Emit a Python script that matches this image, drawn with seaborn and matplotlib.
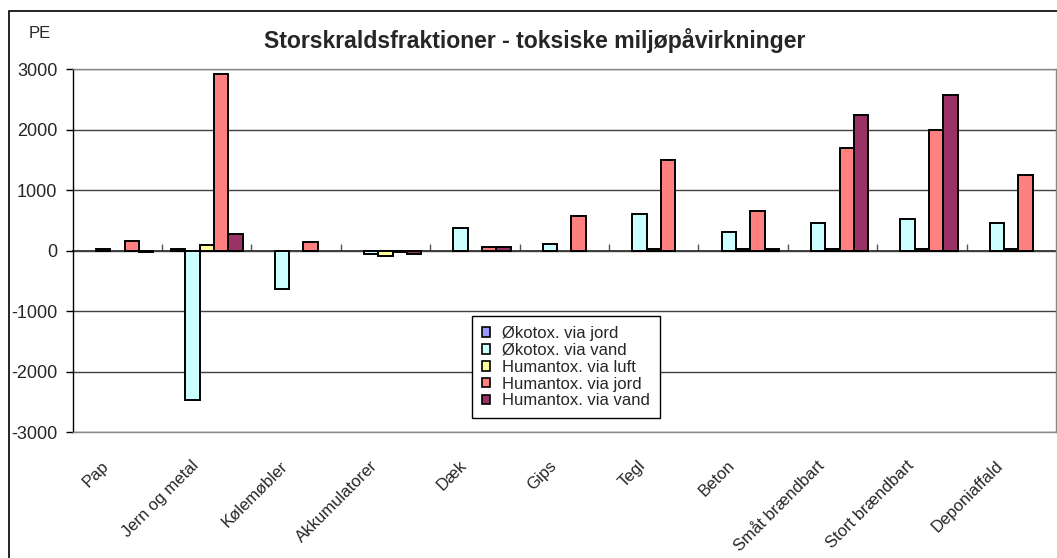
import pandas as pd
import matplotlib.pyplot as plt
import matplotlib.transforms as mtransforms
import seaborn as sns

categories = ["Pap", "Jern og metal", "Kølemøbler", "Akkumulatorer", "Dæk", "Gips",
              "Tegl", "Beton", "Småt brændbart", "Stort brændbart", "Deponiaffald"]
series_names = ["Økotox. via jord", "Økotox. via vand", "Humantox. via luft",
                "Humantox. via jord", "Humantox. via vand"]
oko_jord = [0, 20, 0, 0, 0, 0, 0, 0, 0, 0, 0]
oko_vand = [20, -2470, -640, -55, 380, 114, 603, 304, 462, 522, 462]
hum_luft = [0, 87, 0, -87, 0, 0, 20, 20, 20, 20, 20]
hum_jord = [163, 2924, 136, -15, 54, 576, 1505, 658, 1696, 1995, 1255]
hum_vand = [-25, 277, 0, -60, 54, 0, 0, 20, 2245, 2576, 0]
colors = ["#9999FF", "#CCFFFF", "#FFFF99", "#FF8080", "#993366"]

sns.set_theme(style="white")
plt.rcParams['font.family'] = ['Liberation Sans', 'DejaVu Sans']
plt.rcParams['axes.unicode_minus'] = False

rows = []
for name, vals in zip(series_names, [oko_jord, oko_vand, hum_luft, hum_jord, hum_vand]):
    for cat, v in zip(categories, vals):
        rows.append({"Fraktion": cat, "Kategori": name, "PE": v})
df = pd.DataFrame(rows)

fig = plt.figure(figsize=(10.57, 5.58), dpi=100)
ax = fig.add_axes([0.0688, 0.2254, 0.9302, 0.6506])

sns.barplot(data=df, x="Fraktion", y="PE", hue="Kategori", order=categories,
            hue_order=series_names, palette=colors, saturation=1, errorbar=None,
            edgecolor="black", linewidth=1.4, width=0.8, ax=ax, zorder=3)

# Excel skips empty bars
for p in ax.patches:
    if p.get_height() == 0 and p.get_width() > 0:
        p.set_linewidth(0)

ax.set_ylim(-3000, 3000)
ax.set_xlim(-0.5, len(categories) - 0.5)
ax.set_yticks(range(-3000, 3001, 1000))
ax.yaxis.grid(True, color="#404040", linewidth=1)
ax.set_axisbelow(True)
ax.set_xlabel("")
ax.set_ylabel("")
ax.tick_params(axis="y", direction="out", length=5, width=1, color="black",
               labelsize=13, pad=6, left=True)
ax.tick_params(axis="x", length=0, labelsize=12, pad=10)
offset = mtransforms.ScaledTranslation(-0.16, -0.12, fig.dpi_scale_trans)
for lbl in ax.get_xticklabels():
    lbl.set_rotation(45)
    lbl.set_ha("right")
    lbl.set_rotation_mode("anchor")
    lbl.set_transform(lbl.get_transform() + offset)

for side in ["top", "right", "bottom"]:
    ax.spines[side].set_color("#888888")
    ax.spines[side].set_linewidth(1)
ax.spines["left"].set_color("black")
ax.spines["left"].set_linewidth(1)

# category axis at y=0 with boundary ticks
sec = ax.secondary_xaxis(0.5)
sec.set_xticks([i + 0.5 for i in range(len(categories) - 1)])
sec.set_xticklabels([])
sec.tick_params(direction="out", length=5, width=1, color="#555555")
sec.spines["bottom"].set_color("#444444")
sec.spines["bottom"].set_linewidth(1)

leg = ax.legend(loc="upper left", bbox_to_anchor=(0.406, 0.320), fontsize=12,
                frameon=True, fancybox=False, framealpha=1, edgecolor="black",
                handlelength=0.5, handleheight=0.5, handletextpad=0.7,
                labelspacing=0.11, borderpad=0.6, borderaxespad=0)
leg.get_frame().set_linewidth(1)
leg.set_zorder(5)
for h in leg.legend_handles:
    h.set_edgecolor("black")
    h.set_linewidth(1.2)

fig.text(0.506, 0.927, "Storskraldsfraktioner - toksiske miljøpåvirkninger",
         ha="center", va="center", fontsize=16.6, fontweight="bold")
fig.text(0.027, 0.94, "PE", ha="left", va="center", fontsize=12)

fig.patches.append(plt.Rectangle((9 / 1057, -0.02), 1.0, 1 - 11 / 558 + 0.02,
                                 transform=fig.transFigure, fill=False,
                                 edgecolor="black", linewidth=1.2, clip_on=False))

fig.savefig("out.png", dpi=100)
